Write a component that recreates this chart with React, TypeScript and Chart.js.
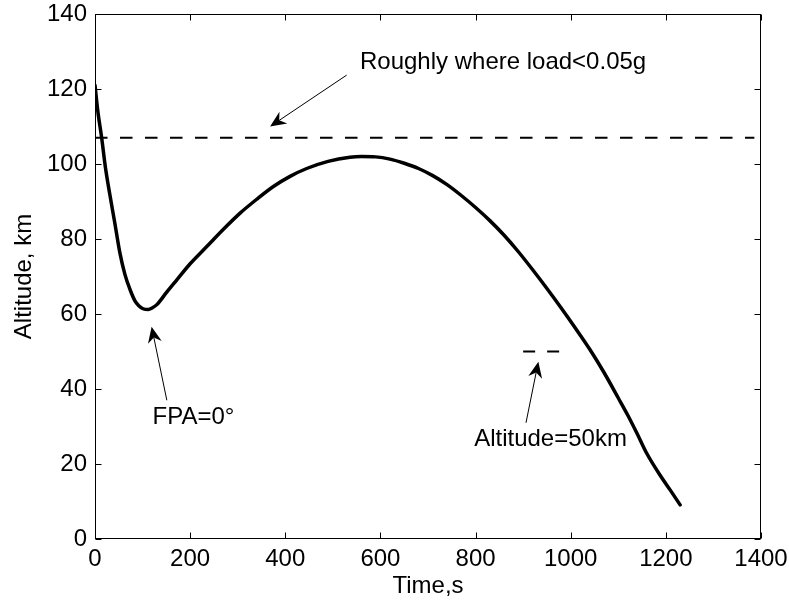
import React, { useEffect, useRef } from "react";
import { Chart, registerables } from "chart.js";

Chart.register(...registerables);

// ---- data ----
const timeS = [
  0, 6, 14, 22, 31, 42, 52, 63, 74, 84, 92, 101, 112, 120, 130, 150, 172, 200,
  235, 270, 305, 340, 375, 410, 445, 490, 536, 560, 590, 620, 650, 680, 710,
  740, 770, 800, 830, 860, 890, 920, 950, 980, 1010, 1040, 1070, 1100, 1120,
  1140, 1160, 1190, 1210, 1230,
];
const altitudeKm = [
  121, 114, 107, 99, 92, 84, 76.5, 70.5, 66.4, 63.5, 62.2, 61.4, 61.2, 61.6,
  62.5, 65.7, 69.1, 73.4, 78, 82.6, 86.9, 90.6, 94, 96.7, 98.8, 100.7, 101.8,
  102, 101.9, 101.3, 100.2, 98.8, 96.9, 94.5, 91.6, 88.4, 84.9, 81, 76.6, 71.8,
  66.8, 61.6, 56.2, 50.6, 44.4, 37.6, 33, 28, 22.8, 16.6, 12.9, 9.1,
];
const loadLineTime = [0, 1386];
const loadLineAlt = [107, 107];
const marker50Time = [900, 976];
const marker50Alt = [50, 50];

const xTicks = [0, 200, 400, 600, 800, 1000, 1200, 1400];
const yTicks = [0, 20, 40, 60, 80, 100, 120, 140];

const annotationTexts = ["Roughly where load<0.05g", "FPA=0°", "Altitude=50km"];
const annotationTextT = [557, 121, 797];
const annotationTextAlt = [127, 32.5, 26.7];
const arrowFromT = [529, 151, 906];
const arrowFromAlt = [123.7, 37, 31];
const arrowToT = [368, 119, 932];
const arrowToAlt = [110, 56.6, 47.3];

const FONT = "'Liberation Sans', Arial, Helvetica, sans-serif";
const FONT_SIZE = 24;

const matlabPlugin = {
  id: "matlabAxes",
  afterDraw(chart: any) {
    const { ctx, chartArea: a, scales } = chart;
    const xs = scales.x;
    const ys = scales.y;
    ctx.save();
    ctx.strokeStyle = "#000";
    ctx.fillStyle = "#000";
    ctx.lineWidth = 1;
    const L = Math.round(a.left) + 0.5;
    const R = Math.round(a.right) - 0.5;
    const T = Math.round(a.top) + 0.5;
    const B = Math.round(a.bottom) - 0.5;
    ctx.strokeRect(L, T, R - L, B - T);
    const tl = 6;
    ctx.beginPath();
    xTicks.forEach((v) => {
      const px = Math.round(xs.getPixelForValue(v)) + 0.5;
      ctx.moveTo(px, B);
      ctx.lineTo(px, B - tl);
      ctx.moveTo(px, T);
      ctx.lineTo(px, T + tl);
    });
    yTicks.forEach((v) => {
      const py = Math.round(ys.getPixelForValue(v)) + 0.5;
      ctx.moveTo(L, py);
      ctx.lineTo(L + tl, py);
      ctx.moveTo(R, py);
      ctx.lineTo(R - tl, py);
    });
    ctx.stroke();

    // arrows
    annotationTexts.forEach((_, i) => {
      const x0 = xs.getPixelForValue(arrowFromT[i]);
      const y0 = ys.getPixelForValue(arrowFromAlt[i]);
      const x1 = xs.getPixelForValue(arrowToT[i]);
      const y1 = ys.getPixelForValue(arrowToAlt[i]);
      const ang = Math.atan2(y1 - y0, x1 - x0);
      const hl = 16;
      const hw = 7;
      const notch = 11;
      const ux = Math.cos(ang);
      const uy = Math.sin(ang);
      const nx = -uy;
      const ny = ux;
      ctx.beginPath();
      ctx.moveTo(x0, y0);
      ctx.lineTo(x1 - ux * notch, y1 - uy * notch);
      ctx.lineWidth = 1;
      ctx.stroke();
      ctx.beginPath();
      ctx.moveTo(x1, y1);
      ctx.lineTo(x1 - ux * hl + nx * hw, y1 - uy * hl + ny * hw);
      ctx.lineTo(x1 - ux * notch, y1 - uy * notch);
      ctx.lineTo(x1 - ux * hl - nx * hw, y1 - uy * hl - ny * hw);
      ctx.closePath();
      ctx.fill();
    });

    // texts
    ctx.font = `${FONT_SIZE}px ${FONT}`;
    ctx.textAlign = "left";
    ctx.textBaseline = "middle";
    annotationTexts.forEach((txt, i) => {
      ctx.fillText(
        txt,
        xs.getPixelForValue(annotationTextT[i]),
        ys.getPixelForValue(annotationTextAlt[i])
      );
    });
    ctx.restore();
  },
};

export default function App() {
  const ref = useRef<HTMLCanvasElement | null>(null);
  useEffect(() => {
    if (!ref.current) return;
    const chart = new Chart(ref.current, {
      type: "scatter",
      data: {
        datasets: [
          {
            data: timeS.map((t, i) => ({ x: t, y: altitudeKm[i] })),
            showLine: true,
            borderColor: "#000",
            borderWidth: 3.5,
            pointRadius: 0,
            cubicInterpolationMode: "monotone",
            borderCapStyle: "round",
            borderJoinStyle: "round",
          },
          {
            data: loadLineTime.map((t, i) => ({ x: t, y: loadLineAlt[i] })),
            showLine: true,
            borderColor: "#000",
            borderWidth: 2,
            borderDash: [12.5, 12.5],
            pointRadius: 0,
          },
          {
            data: marker50Time.map((t, i) => ({ x: t, y: marker50Alt[i] })),
            showLine: true,
            borderColor: "#000",
            borderWidth: 2,
            borderDash: [12, 12],
            pointRadius: 0,
          },
        ],
      } as any,
      options: {
        animation: false,
        responsive: false,
        devicePixelRatio: 1,
        events: [],
        layout: { padding: { top: 14, right: 28, left: 0, bottom: 0 } },
        plugins: {
          legend: { display: false },
          tooltip: { enabled: false },
        },
        scales: {
          x: {
            type: "linear",
            min: 0,
            max: 1400,
            afterFit: (s: any) => {
              s.height = 62;
              s.paddingLeft = 0;
              s.paddingRight = 0;
            },
            afterBuildTicks: (s: any) => {
              s.ticks = xTicks.map((v) => ({ value: v }));
            },
            ticks: {
              color: "#000",
              font: { family: FONT, size: FONT_SIZE },
              padding: 6,
              maxRotation: 0,
              autoSkip: false,
              callback: (v: any) => String(v),
            },
            grid: { display: false, drawTicks: false },
            border: { display: false },
            title: {
              display: true,
              text: "Time,s",
              color: "#000",
              font: { family: FONT, size: FONT_SIZE, lineHeight: 1 },
              padding: { top: 0, bottom: 3 },
            },
          },
          y: {
            type: "linear",
            min: 0,
            max: 140,
            afterFit: (s: any) => {
              s.width = 95;
              s.paddingTop = 0;
              s.paddingBottom = 0;
            },
            afterBuildTicks: (s: any) => {
              s.ticks = yTicks.map((v) => ({ value: v }));
            },
            ticks: {
              color: "#000",
              font: { family: FONT, size: FONT_SIZE },
              padding: 8,
              autoSkip: false,
              callback: (v: any) => String(v),
            },
            grid: { display: false, drawTicks: false },
            border: { display: false },
            title: {
              display: true,
              text: "Altitude, km",
              color: "#000",
              font: { family: FONT, size: FONT_SIZE, lineHeight: 1 },
              padding: { top: 12, bottom: 0 },
            },
          },
        },
      } as any,
      plugins: [matlabPlugin],
    });
    return () => chart.destroy();
  }, []);
  return (
    <div style={{ position: "absolute", left: 0, top: 0, width: 789, height: 601, background: "#fff" }}>
      <canvas ref={ref} width={789} height={601} style={{ display: "block" }} />
    </div>
  );
}
